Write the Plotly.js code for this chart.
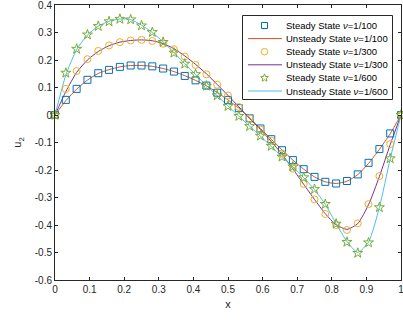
<!DOCTYPE html>
<html>
<head>
<meta charset="utf-8">
<script src="https://cdn.plot.ly/plotly-3.0.1.min.js"></script>
<style>html,body{margin:0;padding:0;background:#fff;}#chart{width:403px;height:323px;}</style>
</head>
<body>
<div id="chart"></div>
<script>
// x grid: 33 points, step 1/32
const xValues = [0,0.03125,0.0625,0.09375,0.125,0.15625,0.1875,0.21875,0.25,0.28125,0.3125,0.34375,0.375,0.40625,0.4375,0.46875,0.5,0.53125,0.5625,0.59375,0.625,0.65625,0.6875,0.71875,0.75,0.78125,0.8125,0.84375,0.875,0.90625,0.9375,0.96875,1];

const steady100 = [0,0.055,0.095,0.128,0.152,0.164,0.175,0.180,0.180,0.177,0.169,0.158,0.142,0.126,0.107,0.081,0.055,0.025,-0.012,-0.049,-0.088,-0.128,-0.164,-0.197,-0.225,-0.243,-0.249,-0.240,-0.216,-0.174,-0.124,-0.067,0];
const unsteady100 = [0,0.052,0.094,0.127,0.151,0.165,0.175,0.180,0.180,0.177,0.169,0.158,0.143,0.126,0.106,0.082,0.055,0.025,-0.012,-0.049,-0.088,-0.127,-0.164,-0.197,-0.225,-0.243,-0.249,-0.241,-0.217,-0.176,-0.125,-0.068,0];

const steady300 = [0,0.095,0.160,0.203,0.233,0.253,0.265,0.271,0.273,0.269,0.259,0.239,0.213,0.182,0.148,0.110,0.071,0.029,-0.012,-0.053,-0.094,-0.140,-0.195,-0.251,-0.307,-0.360,-0.400,-0.418,-0.394,-0.324,-0.222,-0.106,0];
const unsteady300 = [0,0.085,0.155,0.200,0.231,0.252,0.265,0.271,0.273,0.270,0.260,0.241,0.215,0.184,0.150,0.111,0.071,0.030,-0.012,-0.053,-0.096,-0.143,-0.196,-0.252,-0.307,-0.359,-0.399,-0.416,-0.395,-0.326,-0.224,-0.108,0];

const steady600 = [0,0.153,0.240,0.292,0.323,0.340,0.349,0.347,0.325,0.301,0.265,0.226,0.186,0.148,0.106,0.071,0.032,-0.004,-0.041,-0.076,-0.113,-0.152,-0.188,-0.227,-0.270,-0.324,-0.396,-0.462,-0.502,-0.464,-0.336,-0.158,0];
const unsteady600 = [0,0.145,0.238,0.291,0.323,0.341,0.349,0.347,0.327,0.300,0.266,0.227,0.187,0.147,0.107,0.070,0.033,-0.004,-0.041,-0.077,-0.114,-0.152,-0.189,-0.228,-0.271,-0.325,-0.395,-0.460,-0.500,-0.462,-0.336,-0.160,0];

const xTickVals = [0,0.1,0.2,0.3,0.4,0.5,0.6,0.7,0.8,0.9,1];
const xTickText = ['0','0.1','0.2','0.3','0.4','0.5','0.6','0.7','0.8','0.9','1'];
const yTickVals = [-0.6,-0.5,-0.4,-0.3,-0.2,-0.1,0,0.1,0.2,0.3,0.4];
const yTickText = ['-0.6','-0.5','-0.4','-0.3','-0.2','-0.1','0','0.1','0.2','0.3','0.4'];

const legendLabels = [
  'Steady State <i>ν</i>=1/100',
  'Unsteady State <i>ν</i>=1/100',
  'Steady State <i>ν</i>=1/300',
  'Unsteady State <i>ν</i>=1/300',
  'Steady State <i>ν</i>=1/600',
  'Unsteady State <i>ν</i>=1/600'
];

const C = {
  blue:'#0072BD', orange:'#D95319', yellow:'#EDB120',
  purple:'#7E2F8E', green:'#77AC30', cyan:'#4DBEEE', axis:'#262626'
};

function markerTrace(y, color, symbol, size){
  return {x:xValues, y:y, mode:'markers', type:'scatter', cliponaxis:false,
    marker:{symbol:symbol, size:size, color:color, line:{color:color, width:1}}, showlegend:false, hoverinfo:'skip'};
}
function lineTrace(y, color){
  return {x:xValues, y:y, mode:'lines', type:'scatter', cliponaxis:false,
    line:{color:color, width:1, shape:'spline', smoothing:0.6}, showlegend:false, hoverinfo:'skip'};
}

const data = [
  lineTrace(unsteady100, C.orange),
  lineTrace(unsteady300, C.purple),
  lineTrace(unsteady600, C.cyan),
  markerTrace(steady100, C.blue, 'square-open', 7),
  markerTrace(steady300, C.yellow, 'circle-open', 7),
  markerTrace(steady600, C.green, 'star-open', 7.5)
];

// plot area geometry (px)
const M = {l:55, r:2, t:5, b:43};
const W = 403, H = 323;
const PW = W - M.l - M.r, PH = H - M.t - M.b;
const px2x = p => (p - M.l) / PW;
const py2y = p => (H - M.b - p) / PH;

// custom legend
const shapes = [];
const annotations = [];
shapes.push({type:'rect', xref:'paper', yref:'paper',
  x0:px2x(242.5), x1:px2x(392.5), y0:py2y(99.5), y1:py2y(15.5),
  line:{color:C.axis, width:1}, fillcolor:'#ffffff', layer:'above'});
const rowY0 = 25.5, rowStep = 13.1;
const entryKinds = [
  {kind:'square', color:C.blue}, {kind:'line', color:C.orange},
  {kind:'circle', color:C.yellow}, {kind:'line', color:C.purple},
  {kind:'star', color:C.green}, {kind:'line', color:C.cyan}
];
function starPath(ro, ri){
  let d = '';
  for (let i = 0; i < 10; i++){
    const r = i % 2 === 0 ? ro : ri;
    const a = Math.PI/2 + i*Math.PI/5;
    d += (i === 0 ? 'M' : 'L') + (r*Math.cos(a)).toFixed(2) + ',' + (r*Math.sin(a)).toFixed(2);
  }
  return d + 'Z';
}
legendLabels.forEach((lab, i) => {
  const yc = py2y(rowY0 + i*rowStep);
  const k = entryKinds[i];
  const xc = px2x(264.5);
  if (k.kind === 'line'){
    shapes.push({type:'line', xref:'paper', yref:'paper', x0:px2x(248), x1:px2x(282), y0:yc, y1:yc,
      line:{color:k.color, width:1}, layer:'above'});
  } else if (k.kind === 'square'){
    shapes.push({type:'rect', xref:'paper', yref:'paper', xsizemode:'pixel', ysizemode:'pixel',
      xanchor:xc, yanchor:yc, x0:-3, x1:3, y0:-3, y1:3, line:{color:k.color, width:1}, layer:'above'});
  } else if (k.kind === 'circle'){
    shapes.push({type:'circle', xref:'paper', yref:'paper', xsizemode:'pixel', ysizemode:'pixel',
      xanchor:xc, yanchor:yc, x0:-3.3, x1:3.3, y0:-3.3, y1:3.3, line:{color:k.color, width:1}, layer:'above'});
  } else {
    shapes.push({type:'path', xref:'paper', yref:'paper', xsizemode:'pixel', ysizemode:'pixel',
      xanchor:xc, yanchor:yc, path:starPath(4, 1.8), line:{color:k.color, width:1}, layer:'above'});
  }
  annotations.push({xref:'paper', yref:'paper', x:px2x(283.5), y:yc, xanchor:'left', yanchor:'middle',
    text:lab, showarrow:false, font:{family:'Liberation Sans, Arial', size:9.5, color:'#000'}});
});

const axisCommon = {
  showline:true, mirror:'ticks', linecolor:C.axis, linewidth:1,
  ticks:'inside', ticklen:3, tickwidth:1, tickcolor:C.axis,
  showgrid:false, zeroline:false, ticklabeloverflow:'allow',
  tickfont:{family:'Liberation Sans, Arial', size:10, color:C.axis}
};

const layout = {
  width:W, height:H,
  margin:M,
  paper_bgcolor:'#ffffff', plot_bgcolor:'#ffffff',
  showlegend:false,
  xaxis:Object.assign({}, axisCommon, {range:[0,1], tickmode:'array', tickvals:xTickVals, ticktext:xTickText,
    title:{text:'x', font:{family:'Liberation Sans, Arial', size:11, color:C.axis}, standoff:6}}),
  yaxis:Object.assign({}, axisCommon, {range:[-0.6,0.4], tickmode:'array', tickvals:yTickVals, ticktext:yTickText,
    title:{text:'u<sub>2</sub>', font:{family:'Liberation Sans, Arial', size:11, color:C.axis}, standoff:10}}),
  shapes:shapes,
  annotations:annotations
};

Plotly.newPlot('chart', data, layout, {staticPlot:true, displayModeBar:false});
</script>
</body>
</html>
